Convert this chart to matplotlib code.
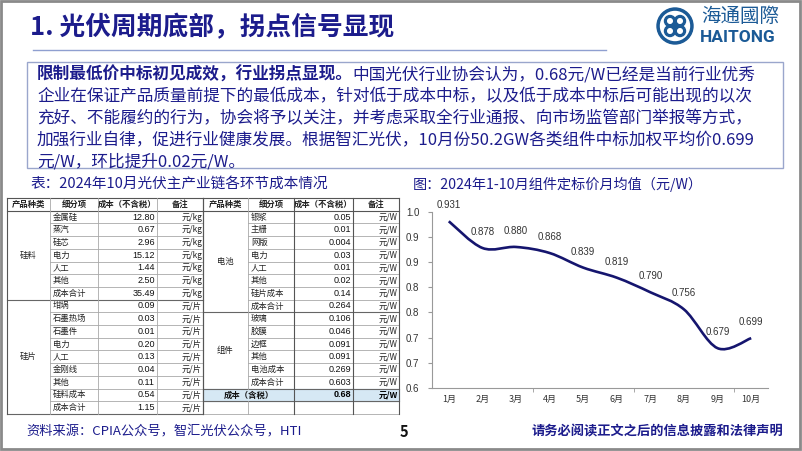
import matplotlib.pyplot as plt
import numpy as np
from matplotlib.patches import Rectangle, Circle, PathPatch
from matplotlib.path import Path

plt.rcParams['font.family'] = ['Noto Sans CJK SC', 'DejaVu Sans']

# ---- data ----
months = ["1月", "2月", "3月", "4月", "5月", "6月", "7月", "8月", "9月", "10月"]
prices = [0.931, 0.878, 0.880, 0.868, 0.839, 0.819, 0.790, 0.756, 0.679, 0.699]
ytick_vals = [0.60, 0.65, 0.70, 0.75, 0.80, 0.85, 0.90, 0.95]
ytick_labels = ["0.6", "0.7", "0.7", "0.8", "0.8", "0.9", "0.9", "1.0"]

header = ["产品种类", "细分项", "成本（不含税）", "备注"]
left_groups = [("硅料", 7), ("硅片", 9)]
left_items = ["金属硅", "蒸汽", "硅芯", "电力", "人工", "其他", "成本合计",
              "坩埚", "石墨热场", "石墨件", "电力", "人工", "金刚线", "其他", "硅料成本", "成本合计"]
left_costs = ["12.80", "0.67", "2.96", "15.12", "1.44", "2.50", "35.49",
              "0.09", "0.03", "0.01", "0.20", "0.13", "0.04", "0.11", "0.54", "1.15"]
left_units = ["元/kg"] * 7 + ["元/片"] * 9

right_groups = [("电池", 8), ("组件", 6)]
right_items = ["银浆", "主栅", "网版", "电力", "人工", "其他", "硅片成本", "成本合计",
               "玻璃", "胶膜", "边框", "其他", "电池成本", "成本合计"]
right_costs = ["0.05", "0.01", "0.004", "0.03", "0.01", "0.02", "0.14", "0.264",
               "0.106", "0.046", "0.091", "0.091", "0.269", "0.603"]
right_units = ["元/W"] * 14
total_label, total_cost, total_unit = "成本（含税）", "0.68", "元/W"

title = "1. 光伏周期底部，拐点信号显现"
body_bold = "限制最低价中标初见成效，行业拐点显现。"
body_lines = [
    "中国光伏行业协会认为，0.68元/W已经是当前行业优秀",
    "企业在保证产品质量前提下的最低成本，针对低于成本中标，以及低于成本中标后可能出现的以次",
    "充好、不能履约的行为，协会将予以关注，并考虑采取全行业通报、向市场监管部门举报等方式，",
    "加强行业自律，促进行业健康发展。根据智汇光伏，10月份50.2GW各类组件中标加权平均价0.699",
    "元/W，环比提升0.02元/W。",
]

NAVY = "#1c1c8c"
W, H = 802, 451
fig = plt.figure(figsize=(W / 100, H / 100), dpi=100)
bg = fig.add_axes([0, 0, 1, 1])
bg.set_xlim(0, W)
bg.set_ylim(H, 0)
bg.axis("off")

# slide frame
bg.add_patch(Rectangle((1, 1), W - 3, H - 3, fill=False, ec="#8a8a8a", lw=2))

# title + rule
bg.text(30, 28, title, fontsize=18.5, fontweight="bold", color=NAVY, va="center")
bg.plot([33, 606], [50, 50], color="#8f9fd0", lw=1)

# logo
LOGO = "#1b5a96"
bg.add_patch(Circle((675, 26), 18, color=LOGO))
bg.add_patch(Circle((675, 26), 14.5, color="white"))
for dx, dy in [(-5, -5), (5, -5), (-5, 5), (5, 5)]:
    bg.add_patch(Circle((675 + dx, 26 + dy), 5.5, color=LOGO))
    bg.add_patch(Circle((675 + dx, 26 + dy), 2.3, color="white"))
bg.add_patch(Circle((675, 26), 3, color=LOGO))
bg.text(701, 16, "海通國際", fontsize=14, color=LOGO, va="center")
bg.text(700, 37, "HAITONG", fontsize=12.5, color=LOGO, fontweight="bold",
        va="center", family=["Roboto", "DejaVu Sans"])

# text box
bg.add_patch(Rectangle((27, 62), 756, 106, fill=False, ec="#9aa6cc", lw=1))
t = bg.text(37, 75, body_bold, fontsize=12, fontweight="bold", color=NAVY, va="center")
fig.canvas.draw()
bb = t.get_window_extent(fig.canvas.get_renderer())
x_end = bg.transData.inverted().transform((bb.x1, 0))[0]
bg.text(x_end, 75, body_lines[0], fontsize=12, color=NAVY, va="center")
for i, line in enumerate(body_lines[1:]):
    bg.text(37, 75 + 21.8 * (i + 1), line, fontsize=12, color=NAVY, va="center")

# captions
bg.text(30, 184, "表：2024年10月光伏主产业链各环节成本情况", fontsize=10.5, color=NAVY, va="center")
bg.text(413, 184, "图：2024年1-10月组件定标价月均值（元/W）", fontsize=10.2, color=NAVY, va="center")

# tables
top, rh = 198, 12.7
y0 = top + rh
GRID = "#a8a8a8"
NUMF = ["Liberation Sans", "DejaVu Sans"]


def draw_table(cols, groups, items, costs, units, total=None):
    n = 16
    x0, x1, x2, x3, x4 = cols
    # header
    for j, h in enumerate(header):
        bg.text((cols[j] + cols[j + 1]) / 2, top + rh / 2, h, fontsize=6, fontweight="bold",
                ha="center", va="center", color="#222")
    if total is not None:
        r = len(items)
        bg.add_patch(Rectangle((x0, y0 + r * rh), x4 - x0, rh, color="#d6e8f4", zorder=0))
    # horizontal lines
    bg.plot([x0, x4], [top, top], color="#555", lw=0.8)
    bg.plot([x0, x4], [y0, y0], color="#555", lw=0.8)
    r = 0
    for g, cnt in groups:
        for k in range(cnt):
            bg.plot([x1, x4], [y0 + (r + k + 1) * rh] * 2, color=GRID, lw=0.6)
        bg.plot([x0, x4], [y0 + (r + cnt) * rh] * 2, color="#666", lw=0.8)
        bg.text((x0 + x1) / 2, y0 + (r + cnt / 2) * rh, g, fontsize=6, ha="center",
                va="center", color="#222")
        r += cnt
    for i in range(len(items)):
        yc = y0 + (i + 0.5) * rh
        bg.text(x1 + 3, yc, items[i], fontsize=6, va="center", color="#222")
        bg.text(x3 - 2, yc, costs[i], fontsize=6.5, ha="right", va="center",
                color="#111", family=NUMF)
        bg.text(x4 - 1, yc, units[i], fontsize=6, ha="right", va="center", color="#222")
    bottom = y0 + n * rh
    if total is not None:
        r = len(items)
        yc = y0 + (r + 0.5) * rh
        bg.text((x0 + x2) / 2, yc, total[0], fontsize=6, fontweight="bold", ha="center",
                va="center", color="#111")
        bg.text(x3 - 2, yc, total[1], fontsize=6.5, fontweight="bold", ha="right",
                va="center", family=NUMF)
        bg.text(x4 - 1, yc, total[2], fontsize=6, fontweight="bold", ha="right", va="center")
        bg.plot([x0, x4], [y0 + (r + 1) * rh] * 2, color="#666", lw=0.8)
        bg.plot([x0, x4], [bottom, bottom], color=GRID, lw=0.6)
        for x in (x0, x2, x3, x4):
            bg.plot([x, x], [top, bottom], color="#555", lw=0.8)
        bg.plot([x1, x1], [top, y0 + r * rh], color=GRID, lw=0.6)
        bg.plot([x1, x1], [y0 + (r + 1) * rh, bottom], color=GRID, lw=0.6)
    else:
        for x in (x0, x4):
            bg.plot([x, x], [top, bottom], color="#555", lw=0.8)
        for x in (x1, x2, x3):
            bg.plot([x, x], [top, bottom], color=GRID, lw=0.6)


draw_table([7, 50, 98, 157, 203], left_groups, left_items, left_costs, left_units)
draw_table([203, 248, 294, 353, 399], right_groups, right_items, right_costs, right_units,
           total=(total_label, total_cost, total_unit))

# footer
bg.text(26, 432, "资料来源：CPIA公众号，智汇光伏公众号，HTI", fontsize=9.5, color=NAVY, va="center")
bg.text(404, 432, "5", fontsize=10.5, fontweight="bold", color="#111", va="center", ha="center")
bg.text(783, 432, "请务必阅读正文之后的信息披露和法律声明", fontsize=9.5, fontweight="bold",
        color=NAVY, va="center", ha="right")

# line chart
ax = fig.add_axes([432 / W, (H - 388) / H, 336 / W, 176.3 / H])
ax.set_xlim(-0.5, 9.5)
ax.set_ylim(0.6, 0.95)
x = np.arange(len(prices))
pts = np.column_stack([x, prices])
ext = np.vstack([pts[0], pts, pts[-1]])
verts, codes = [tuple(pts[0])], [Path.MOVETO]
for i in range(len(pts) - 1):
    p0, p1, p2, p3 = ext[i], ext[i + 1], ext[i + 2], ext[i + 3]
    c1 = p1 + (p2 - p0) / 6
    c2 = p2 - (p3 - p1) / 6
    verts += [tuple(c1), tuple(c2), tuple(p2)]
    codes += [Path.CURVE4] * 3
ax.add_patch(PathPatch(Path(verts, codes), fill=False, ec="#15156e", lw=1.9))
for xi, v in zip(x, prices):
    ax.annotate(f"{v:.3f}", (xi, v), xytext=(0, 8), textcoords="offset points",
                ha="center", va="bottom", fontsize=7, color="#333", family=NUMF)
ax.set_yticks(ytick_vals)
ax.set_yticklabels(ytick_labels, family=NUMF)
ax.set_xticks(x)
ax.set_xticklabels(months)
ax.set_xticks([2.5, 5.5, 8.5], minor=True)
ax.tick_params(axis="x", which="major", length=0, pad=5, labelsize=6.5, colors="#333")
ax.tick_params(axis="x", which="minor", length=3, color="#999")
ax.tick_params(axis="y", length=3, color="#999", labelsize=7, colors="#333", pad=6)
for s in ("top", "right"):
    ax.spines[s].set_visible(False)
for s in ("left", "bottom"):
    ax.spines[s].set_color("#999")
    ax.spines[s].set_linewidth(0.8)
ax.patch.set_alpha(0)

fig.savefig("out.png", dpi=100)
